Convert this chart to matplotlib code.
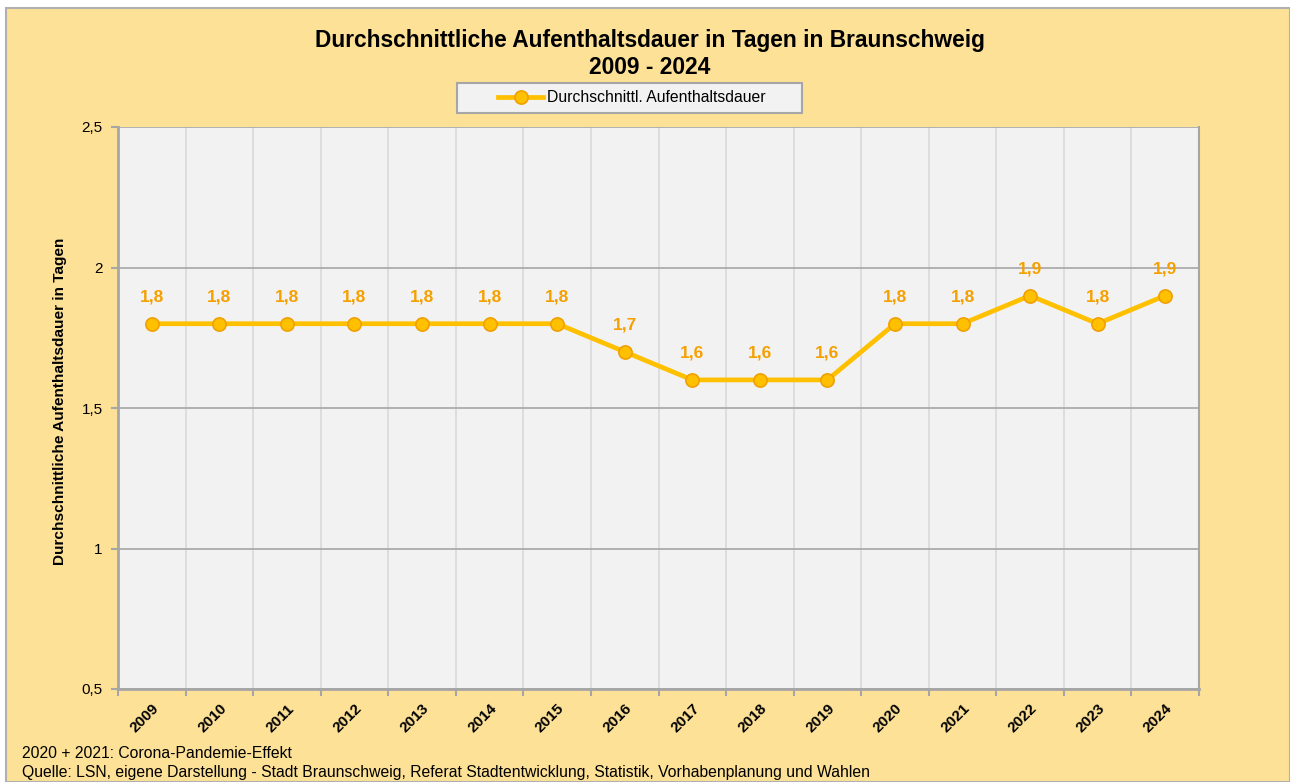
import matplotlib
matplotlib.use("Agg")
import matplotlib.pyplot as plt
import numpy as np

plt.rcParams['font.family'] = ['Liberation Sans', 'DejaVu Sans']

years = ['2009', '2010', '2011', '2012', '2013', '2014', '2015', '2016',
         '2017', '2018', '2019', '2020', '2021', '2022', '2023', '2024']
values = [1.8, 1.8, 1.8, 1.8, 1.8, 1.8, 1.8, 1.7, 1.6, 1.6, 1.6, 1.8, 1.8, 1.9, 1.8, 1.9]
yticks = [0.5, 1.0, 1.5, 2.0, 2.5]
ytick_labels = ['0,5', '1', '1,5', '2', '2,5']

W, H = 1290, 782
fig = plt.figure(figsize=(W/100, H/100), dpi=100)
fig.patch.set_facecolor('white')
# outer chart background
bg = plt.Rectangle((6/W, 0), (W-6)/W, (H-8)/H, transform=fig.transFigure,
                   facecolor='#FDE197', edgecolor='#B0B0B0', linewidth=1.5, zorder=-10)
fig.patches.append(bg)
# legend box
lb = plt.Rectangle((457/W, 1-113/H), 345/W, 30/H, transform=fig.transFigure,
                   facecolor='#F2F2F2', edgecolor='#A6A6A6', linewidth=1.5, zorder=-5)
fig.patches.append(lb)

ax = fig.add_axes([118/W, 1-689/H, (1199-118)/W, (689-127)/H])
ax.set_facecolor('#F2F2F2')
x = np.arange(len(years))
ax.set_xlim(-0.5, len(years)-0.5)
ax.set_ylim(0.5, 2.5)

# grid
for b in np.arange(-0.5, len(years)):
    ax.axvline(b, color='#D9D9D9', lw=1.2, zorder=1)
for yv in yticks:
    ax.axhline(yv, color='#A6A6A6', lw=1.2, zorder=1)

ax.plot(x, values, color='#FFC000', lw=3.4, marker='o', markersize=9.5,
        markerfacecolor='#FFC000', markeredgecolor='#F0A000', markeredgewidth=1.2,
        zorder=3, label='Durchschnittl. Aufenthaltsdauer')
for xi, v in zip(x, values):
    ax.annotate(f'{v:.1f}'.replace('.', ','), (xi, v), xytext=(0, 14),
                textcoords='offset points', ha='center', va='bottom',
                fontsize=12.5, fontweight='bold', color='#F5A000', zorder=4)

ax.set_xticks(x)
ax.set_xticklabels(years, rotation=45, ha='right', rotation_mode='anchor',
                   fontsize=11, fontweight='bold')
ax.tick_params(axis='x', which='major', length=0, pad=9)
ax.set_xticks(np.arange(-0.5, len(years)), minor=True)
ax.tick_params(axis='x', which='minor', length=5, color='#A6A6A6', width=1.5)
ax.set_yticks(yticks)
ax.set_yticklabels(ytick_labels, fontsize=11)
ax.tick_params(axis='y', length=5, color='#A6A6A6', width=1.5, pad=6)
ax.spines['top'].set_visible(False)
ax.spines['right'].set_color('#A6A6A6')
ax.spines['right'].set_linewidth(1.5)
for s in ['left', 'bottom']:
    ax.spines[s].set_color('#A6A6A6')
    ax.spines[s].set_linewidth(2)

ax.set_ylabel('Durchschnittliche Aufenthaltsdauer in Tagen', fontsize=11.1,
              fontweight='bold')
ax.yaxis.set_label_coords((67-118)/1081, 0.512)

fig.text(650/W, 1-40/H, 'Durchschnittliche Aufenthaltsdauer in Tagen in Braunschweig',
         ha='center', va='center', fontsize=16.4, fontweight='bold')
fig.text(650/W, 1-67/H, '2009 - 2024', ha='center', va='center',
         fontsize=16.4, fontweight='bold')

leg = fig.legend(*ax.get_legend_handles_labels(), loc='center',
                 bbox_to_anchor=(632/W, 1-98/H), fontsize=11.3, frameon=False,
                 handlelength=2.9, handletextpad=0.25, borderpad=0,
                 borderaxespad=0)

fig.text(22/W, 1-754/H, '2020 + 2021: Corona-Pandemie-Effekt', fontsize=11.3,
         ha='left', va='center')
fig.text(22/W, 1-773/H, 'Quelle: LSN, eigene Darstellung - Stadt Braunschweig, Referat Stadtentwicklung, Statistik, Vorhabenplanung und Wahlen',
         fontsize=11.3, ha='left', va='center')

fig.savefig('out.png', dpi=100)
